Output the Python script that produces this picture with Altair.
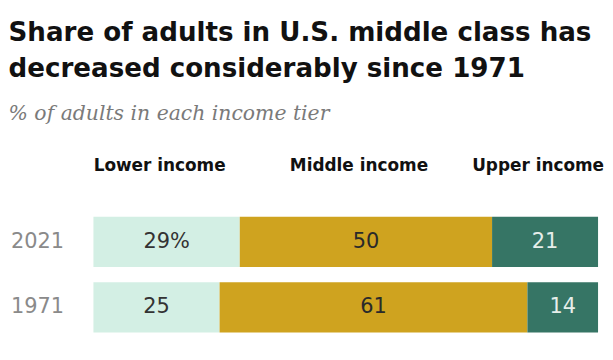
import altair as alt
import pandas as pd

years = ["2021", "1971"]
tiers = ["Lower income", "Middle income", "Upper income"]
values_2021 = [29, 50, 21]
values_1971 = [25, 61, 14]
labels_2021 = ["29%", "50", "21"]
labels_1971 = ["25", "61", "14"]
colors = ["#d3efe4", "#cfa31f", "#367565"]
text_colors = ["#333333", "#2a2a2a", "#e6eeea"]

rows = []
for year, vals, labs in [("2021", values_2021, labels_2021), ("1971", values_1971, labels_1971)]:
    for i, (t, v, l) in enumerate(zip(tiers, vals, labs)):
        rows.append({"year": year, "tier": t, "value": v, "label": l, "order": i})
df = pd.DataFrame(rows)

base = alt.Chart(df).transform_stack(
    stack="value", groupby=["year"], as_=["start", "end"],
    sort=[alt.SortField("order", order="ascending")]
).transform_calculate(mid="(datum.start + datum.end) / 2")

xscale = alt.Scale(domain=[0, 100], nice=False, zero=True)
yscale = alt.Scale(domain=years, paddingInner=0.233, paddingOuter=0)

bars = base.mark_bar(cornerRadius=0).encode(
    x=alt.X("start:Q", scale=xscale, axis=None),
    x2="end:Q",
    y=alt.Y("year:N", scale=yscale, title=None,
            axis=alt.Axis(domain=False, ticks=False, labelFont="DejaVu Sans",
                          labelFontSize=21, labelColor="#8a8a8a", labelPadding=30)),
    color=alt.Color("tier:N", scale=alt.Scale(domain=tiers, range=colors), legend=None),
)

values_text = base.mark_text(font="DejaVu Sans", fontSize=21, baseline="middle").encode(
    x=alt.X("mid:Q", scale=xscale),
    y=alt.Y("year:N", scale=yscale),
    text="label:N",
    color=alt.Color("tier:N", scale=alt.Scale(domain=tiers, range=text_colors), legend=None),
)

headers = base.transform_filter(alt.datum.year == "2021").mark_text(
    font="DejaVu Sans", fontSize=17, fontWeight="bold", baseline="alphabetic",
    color="#111111", dx=-7
).encode(
    x=alt.X("mid:Q", scale=xscale),
    y=alt.value(-46),
    text="tier:N",
)

chart = alt.layer(bars, values_text, headers).resolve_scale(color="independent").properties(
    width=508,
    height=116.6,
    padding={"left": 0, "top": 10, "right": 0, "bottom": 5},
    title=alt.TitleParams(
        text=["Share of adults in U.S. middle class has", "decreased considerably since 1971"],
        subtitle="% of adults in each income tier",
        anchor="start",
        font="DejaVu Sans",
        fontSize=26.3,
        fontWeight="bold",
        lineHeight=36.5,
        color="#111111",
        subtitleFont="DejaVu Serif",
        subtitleFontStyle="italic",
        subtitleFontSize=20.5,
        subtitleColor="#7a7a7a",
        subtitlePadding=22,
        offset=33,
        dx=-2,
    ),
).configure_view(stroke=None)

chart.save("out.html", embed_options={"renderer": "svg", "actions": False})
